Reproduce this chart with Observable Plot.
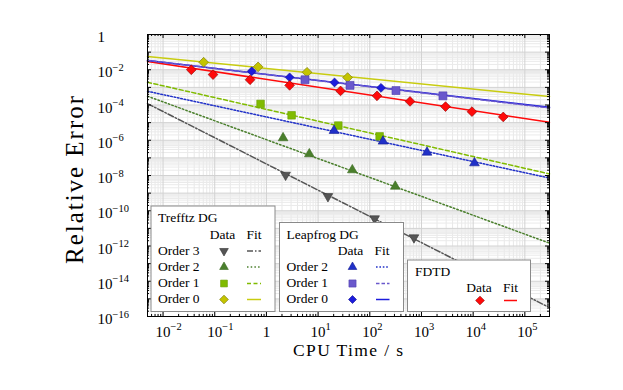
<!DOCTYPE html>
<html><head><meta charset="utf-8">
<script src="https://cdn.jsdelivr.net/npm/d3@7"></script>
<script src="https://cdn.jsdelivr.net/npm/@observablehq/plot@0.6"></script>
<style>
body{margin:0;background:#fff;}
#chart svg{font-family:"Liberation Serif",serif;}
</style>
</head><body><div id="chart"></div>
<script>
// ---- data ----
const fdtdTime  = [0.0352, 0.0927, 0.482, 2.81, 27.2, 138, 600, 2920, 9480, 38200];
const fdtdError = [1.0e-2, 5.3e-3, 2.7e-3, 1.3e-3, 6.3e-4, 3.3e-4, 1.6e-4, 8.1e-5, 4.2e-5, 2.1e-5];
const lf0Time  = [0.52, 2.81, 20.8, 165];
const lf0Error = [8.2e-3, 3.7e-3, 1.9e-3, 9.4e-4];
const lf1Time  = [5.58, 41.4, 321, 2600];
const lf1Error = [2.7e-3, 1.3e-3, 6.6e-4, 3.3e-4];
const lf2Time  = [20.3, 180, 1280, 10600];
const lf2Error = [3.5e-6, 8.7e-7, 2.05e-7, 5.1e-8];
const tr0Time  = [0.061, 0.69, 6.1, 37.2];
const tr0Error = [2.67e-2, 1.46e-2, 7.2e-3, 3.6e-3];
const tr1Time  = [0.77, 3.07, 24.6, 155];
const tr1Error = [1.15e-4, 2.6e-5, 6.8e-6, 1.66e-6];
const tr2Time  = [2.1, 6.76, 45.9, 311];
const tr2Error = [1.35e-6, 1.66e-7, 2.05e-8, 2.4e-9];
const tr3Time  = [2.35, 15.5, 124, 716];
const tr3Error = [1.07e-8, 6.5e-10, 3.6e-11, 3.0e-12];

// fit lines: error at the two ends of the time axis
const fitTime  = [0.005, 3e5];
const fitFDTD  = [2.95e-2, 1.05e-5];
const fitLF0   = [3.3e-2, 7.4e-5];
const fitLF1   = [3.4e-2, 6.8e-5];
const fitLF2   = [6.0e-4, 7.2e-9];
const fitTR0   = [5.6e-2, 3.0e-4];
const fitTR1   = [1.95e-3, 1.23e-8];
const fitTR2   = [3.16e-4, 1.45e-12];
const fitTR3   = [1.2e-4, 3.2e-16];

// ticks
const xMajor = [1e-2, 1e-1, 1, 1e1, 1e2, 1e3, 1e4, 1e5];
const xTickLabels = ["10^−2", "10^−1", "1", "10^1", "10^2", "10^3", "10^4", "10^5"];
const yLabelTicks = [1, 1e-2, 1e-4, 1e-6, 1e-8, 1e-10, 1e-12, 1e-14, 1e-16];
const yTickLabels = ["1", "10^−2", "10^−4", "10^−6", "10^−8", "10^−10", "10^−12", "10^−14", "10^−16"];

// ---- styles ----
const series = [
  {key:"tr3", time:tr3Time, err:tr3Error, fit:fitTR3, color:"#555555", edge:"#333333", symbol:"triangle", rotate:180, r:3.6, dash:"6,2,1.5,2"},
  {key:"tr2", time:tr2Time, err:tr2Error, fit:fitTR2, color:"#4a7f2c", edge:"#3a6a20", symbol:"triangle", rotate:0, r:3.6, dash:"1.5,2.2"},
  {key:"tr1", time:tr1Time, err:tr1Error, fit:fitTR1, color:"#80bb00", edge:"#6aa000", symbol:"square", rotate:0, r:4.3, dash:"4,2.5"},
  {key:"tr0", time:tr0Time, err:tr0Error, fit:fitTR0, color:"#c8cc10", edge:"#707000", symbol:"diamond2", rotate:0, r:4.4, dash:null, fill:"#c4c400"},
  {key:"lf2", time:lf2Time, err:lf2Error, fit:fitLF2, color:"#2030c8", edge:"#101a90", symbol:"triangle", rotate:0, r:3.6, dash:"1.6,1.8"},
  {key:"lf1", time:lf1Time, err:lf1Error, fit:fitLF1, color:"#6a58cc", edge:"#5040b0", symbol:"square", rotate:0, r:4.5, dash:"3.5,2"},
  {key:"lf0", time:lf0Time, err:lf0Error, fit:fitLF0, color:"#1c1cdc", edge:"#0a0a90", symbol:"diamond2", rotate:0, r:4.0, dash:null},
  {key:"fdtd", time:fdtdTime, err:fdtdError, fit:fitFDTD, color:"#ff0a0a", edge:"#8a0000", symbol:"diamond2", rotate:0, r:4.4, dash:null}
];

// minor ticks (log 2..9) from the majors
const xAllDecades = [1e-3, ...xMajor];
const xMinor = xAllDecades.flatMap(d => d3.range(2, 10).map(k => k * d)).filter(v => v >= 0.005 && v <= 3e5);
const yMajor = d3.range(0, 17).map(k => Math.pow(10, -k));
const yMinor = d3.range(1, 17).flatMap(k => d3.range(2, 10).map(m => m * Math.pow(10, -k)));

const frameH = 390 - 34 - 74;
const frameW = 623 - 147 - 74;

const marks = [
  Plot.ruleX(xMinor, {x: d => d, stroke: "#e8e8e8", strokeWidth: 1}),
  Plot.ruleY(yMinor, {y: d => d, stroke: "#eaeaea", strokeWidth: 1}),
  Plot.ruleX(xMajor, {x: d => d, stroke: "#d2d2d2", strokeWidth: 1}),
  Plot.ruleY(yMajor, {y: d => d, stroke: "#d2d2d2", strokeWidth: 1}),
];

for (const s of [...series].reverse()) {
  const rows = s.fit.map((e, i) => ({x: fitTime[i], y: e}));
  marks.push(Plot.line(rows, {x: "x", y: "y", stroke: s.color, strokeWidth: 1.5,
    strokeDasharray: s.dash || undefined}));
}
for (const s of series) {
  const rows = s.time.map((t, i) => ({x: t, y: s.err[i]}));
  marks.push(Plot.dot(rows, {x: "x", y: "y", symbol: s.symbol, r: s.r, rotate: s.rotate,
    fill: s.fill || s.color, stroke: s.edge, strokeWidth: 0.6}));
}

// inner ticks on all four sides
marks.push(
  Plot.tickX(xMajor, {x: d => d, insetTop: frameH - 4, stroke: "#000"}),
  Plot.tickX(xMinor, {x: d => d, insetTop: frameH - 2, stroke: "#000"}),
  Plot.tickX(xMajor, {x: d => d, insetBottom: frameH - 4, stroke: "#000"}),
  Plot.tickX(xMinor, {x: d => d, insetBottom: frameH - 2, stroke: "#000"}),
  Plot.tickY(yMajor, {y: d => d, insetRight: frameW - 4, stroke: "#000"}),
  Plot.tickY(yMinor, {y: d => d, insetRight: frameW - 2, stroke: "#000"}),
  Plot.tickY(yMajor, {y: d => d, insetLeft: frameW - 4, stroke: "#000"}),
  Plot.tickY(yMinor, {y: d => d, insetLeft: frameW - 2, stroke: "#000"}),
  Plot.frame({stroke: "#000", strokeWidth: 1}),
  Plot.text(xMajor, {x: d => d, text: (d, i) => xTickLabels[i], frameAnchor: "bottom",
    lineAnchor: "bottom", dy: 20, fontSize: 15, fill: "#000"}),
  Plot.text(yLabelTicks, {y: d => d, text: (d, i) => yTickLabels[i], frameAnchor: "left",
    textAnchor: "start", lineAnchor: "bottom", dx: -50, dy: 7.5, fontSize: 15, fill: "#000"})
);

const chart = Plot.plot({
  width: 623, height: 390,
  marginLeft: 147, marginRight: 74, marginTop: 34, marginBottom: 74,
  x: {type: "log", domain: [0.005, 3e5], axis: null},
  y: {type: "log", domain: [1e-16, 1], axis: null},
  style: {fontFamily: "Liberation Serif, serif", fontSize: "14px", background: "white", color: "#000"},
  marks
});
document.getElementById("chart").appendChild(chart);

const svg = d3.select(chart);

// superscripts in tick labels (x labels: base "10" centred on its tick)
const xLabelSet = new Set(xTickLabels);
svg.selectAll("text").each(function() {
  const t = this.textContent;
  if (!xLabelSet.has(t) && !yTickLabels.includes(t)) return;
  const isX = xLabelSet.has(t) && this.getAttribute("text-anchor") !== "start"
              && !(this.parentNode && this.parentNode.getAttribute("text-anchor") === "start");
  const parts = t.split("^");
  this.textContent = "";
  this.appendChild(document.createTextNode(parts[0]));
  if (parts.length > 1) {
    const ts = document.createElementNS("http://www.w3.org/2000/svg", "tspan");
    ts.setAttribute("dy", "-6.5");
    ts.setAttribute("font-size", "10.5");
    ts.textContent = parts[1];
    this.appendChild(ts);
  }
  if (isX) {
    this.setAttribute("text-anchor", "start");
    const w = this.getSubStringLength(0, parts[0].length);
    this.setAttribute("dx", -w / 2);
  }
});

// axis titles
svg.append("text").attr("x", 348).attr("y", 356).attr("text-anchor", "middle")
  .attr("font-size", 17.5).attr("textLength", 110).attr("fill", "#000").text("CPU Time / s");
svg.append("text").attr("transform", "translate(82.5,180) rotate(-90)").attr("text-anchor", "middle")
  .attr("font-size", 25).attr("textLength", 168).attr("fill", "#000").text("Relative Error");

// legends
const bySeries = Object.fromEntries(series.map(s => [s.key, s]));
const symbolTypes = {triangle: d3.symbolTriangle, square: d3.symbolSquare, diamond2: d3.symbolDiamond2};
const lg = svg.append("g").attr("font-size", 13.5).attr("fill", "#000");

function box(x0, y0, x1, y1) {
  lg.append("rect").attr("x", x0).attr("y", y0).attr("width", x1 - x0).attr("height", y1 - y0)
    .attr("fill", "#fff").attr("stroke", "#8a8a8a").attr("stroke-width", 1);
}
function txt(x, y, s, anchor) {
  lg.append("text").attr("x", x).attr("y", y).attr("text-anchor", anchor || "start").text(s);
}
function sym(key, cx, cy) {
  const s = bySeries[key];
  lg.append("path")
    .attr("d", d3.symbol(symbolTypes[s.symbol], Math.PI * s.r * s.r * 0.8)())
    .attr("transform", `translate(${cx},${cy}) rotate(${s.rotate})`)
    .attr("fill", s.fill || s.color).attr("stroke", s.edge).attr("stroke-width", 0.6);
}
function fitLine(key, x0, x1, y) {
  const s = bySeries[key];
  lg.append("line").attr("x1", x0).attr("x2", x1).attr("y1", y).attr("y2", y)
    .attr("stroke", s.color).attr("stroke-width", 1.5)
    .attr("stroke-dasharray", s.dash || null);
}

// Trefftz DG
box(151, 206, 275, 311.5);
txt(158, 222, "Trefftz DG");
txt(222.5, 238.5, "Data", "middle");
txt(254, 238.5, "Fit", "middle");
[["tr3", "Order 3", 254.5], ["tr2", "Order 2", 270.5], ["tr1", "Order 1", 287], ["tr0", "Order 0", 303]]
  .forEach(([k, lab, by]) => { txt(158, by, lab); sym(k, 224, by - 3.5); fitLine(k, 247, 261, by - 3.5); });

// Leapfrog DG
box(279.5, 222.5, 403.5, 311.5);
txt(286.5, 238.5, "Leapfrog DG");
txt(350.5, 254.5, "Data", "middle");
txt(382, 254.5, "Fit", "middle");
[["lf2", "Order 2", 270.5], ["lf1", "Order 1", 287], ["lf0", "Order 0", 303]]
  .forEach(([k, lab, by]) => { txt(286.5, by, lab); sym(k, 352.5, by - 3.5); fitLine(k, 376, 389.5, by - 3.5); });

// FDTD
box(407.5, 260, 530.5, 311.5);
txt(415, 275.5, "FDTD");
txt(479, 292, "Data", "middle");
txt(510.5, 292, "Fit", "middle");
sym("fdtd", 480, 300.5);
fitLine("fdtd", 504, 517, 300.5);
</script>
</body></html>
